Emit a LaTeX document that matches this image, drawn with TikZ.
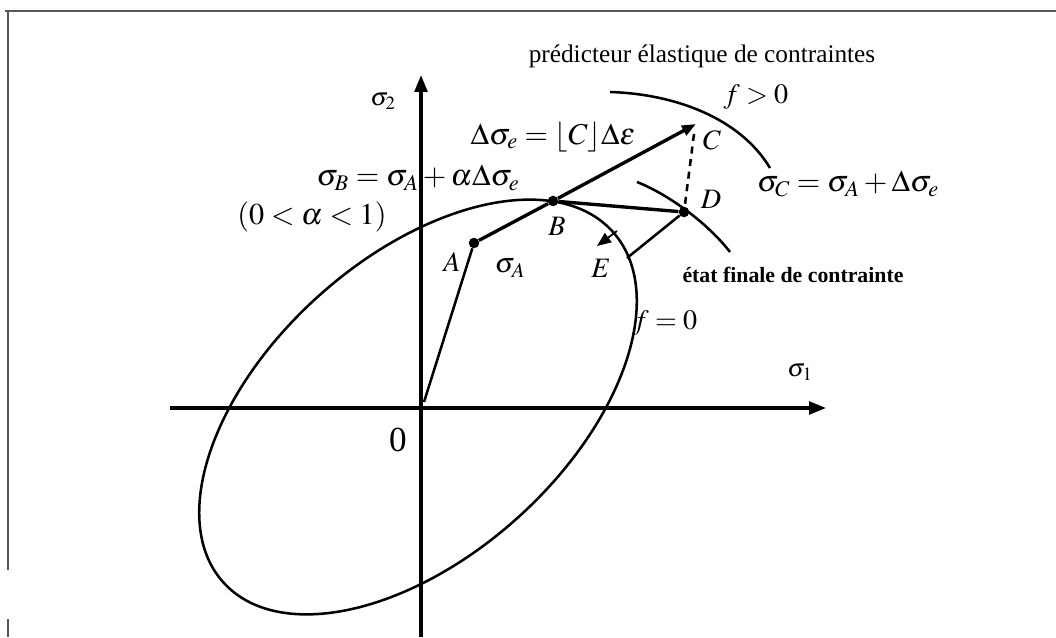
\documentclass[tikz,border=0pt]{standalone}
\usepackage{mathptmx}
\usepackage[no-math]{fontspec}
\setmainfont{Liberation Serif}
\usetikzlibrary{arrows.meta}
\begin{document}
\begin{tikzpicture}[x=0.025cm,y=-0.025cm,
  axisline/.style={line width=2.3pt,-{Triangle[length=12pt,width=9pt]}},
  frameline/.style={line width=1.5pt,draw=black!65},
  curveline/.style={line width=1.8pt},
  vecline/.style={line width=2.4pt},
  thinvec/.style={line width=1.8pt},
  dashline/.style={line width=1.8pt,dash pattern=on 5pt off 4pt},
  dot/.style={circle,fill=black,inner sep=0pt,minimum size=7.5pt},
  lab/.style={inner sep=0pt,font=\fontsize{20}{23}\selectfont},
  eqlab/.style={inner sep=0pt,font=\fontsize{21.5}{24}\selectfont},
  axlab/.style={inner sep=0pt,font=\fontsize{18}{21}\selectfont},
  txt/.style={inner sep=0pt,font=\fontsize{18}{21}\selectfont},
  btxt/.style={inner sep=0pt,font=\fontsize{15.5}{18}\selectfont\bfseries},
]
\useasboundingbox (0,0) rectangle (1056,637);
% frame
\draw[frameline] (5,11) -- (1056,11);
\draw[frameline] (8,11) -- (8,570);
\draw[frameline] (8,619) -- (8,637);

% ellipse f=0
\draw[curveline,shift={(418,407)},rotate=42] (0,0) ellipse [x radius=262,y radius=149];

% outer arcs
\draw[curveline] (610,92) .. controls (675,94) and (740,118) .. (770,168);
\draw[curveline] (637,182) .. controls (665,193) and (705,220) .. (730,252);

% axes
\coordinate (xl) at (170,408);
\coordinate (xr) at (826,408);
\coordinate (yb) at (421,637);
\coordinate (yt) at (421,75);
\draw[axisline] (xl) -- (xr);
\draw[axisline] (yb) -- (yt);

% points
\coordinate (o2) at (424,402);
\node[dot] (A) at (474,243) {};
\node[dot] (B) at (553,201) {};
\node[dot] (D) at (684,212) {};
\coordinate (C) at (696,124);
\coordinate (Cd) at (694,134);
\coordinate (E) at (627,258);
\coordinate (e1) at (617,231);
\coordinate (e2) at (597,246);

\draw[thinvec] (o2) -- (A);
\draw[vecline] (A) -- (B);
\draw[vecline,-{Triangle[length=10pt,width=7.5pt]}] (B) -- (C);
\draw[vecline] (B) -- (D);
\draw[dashline] (Cd) -- (D);
\draw[thinvec] (D) -- (E);
\draw[line width=1.3pt,-{Triangle[length=10pt,width=8pt]}] (e1) -- (e2);

% labels
\node[txt] (tpred) at (702,56) {prédicteur élastique de contraintes};
\node[lab] (lfpos) at (756,97) {$f>0$};
\node[axlab] (ls2) at (383,101) {$\sigma_2$};
\node[axlab] (ls1) at (800,372) {$\sigma_1$};
\node[inner sep=0pt,font=\fontsize{25}{27}\selectfont] (l0) at (398,440) {0};
\node[eqlab] (lde) at (553,137) {$\Delta\sigma_e = \lfloor C\rfloor\Delta\varepsilon$};
\node[eqlab] (lsb) at (418,178) {$\sigma_B = \sigma_A + \alpha\Delta\sigma_e$};
\node[eqlab] (lal) at (312,217) {$(0 < \alpha < 1)$};
\node[lab] (lC) at (712,140) {$C$};
\node[lab] (lD) at (711,199) {$D$};
\node[lab] (lB) at (557,226) {$B$};
\node[lab] (lA) at (452,262) {$A$};
\node[lab] (lsA) at (510,268) {$\sigma_A$};
\node[lab] (lE) at (601,268) {$E$};
\node[eqlab] (lsc) at (848,184) {$\sigma_C = \sigma_A + \Delta\sigma_e$};
\node[btxt] (tfin) at (793,275) {état finale de contrainte};
\node[lab] (lf0) at (665,323) {$f=0$};
\end{tikzpicture}
\end{document}
